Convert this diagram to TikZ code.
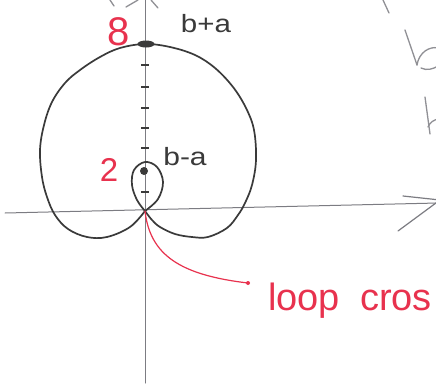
\documentclass[tikz,border=0pt]{standalone}
\usepackage{fontspec}
\setmainfont{Liberation Sans}
\usetikzlibrary{shapes.geometric}
\definecolor{pen}{HTML}{3A3A3A}
\definecolor{axisgray}{HTML}{7C7C82}
\definecolor{redpen}{HTML}{E8324E}
\begin{document}
\begin{tikzpicture}[x=1pt,y=-1pt,
  axisline/.style={draw=axisgray,line width=1pt,line cap=round},
  curveline/.style={draw=pen,line width=1.7pt,line cap=round,line join=round},
  tickmark/.style={draw=pen,line width=1.8pt},
  redline/.style={draw=redpen,line width=1.2pt,line cap=round},
  redlabel/.style={text=redpen,inner sep=0pt},
  blacklabel/.style={text=pen,inner sep=0pt},
  fragment/.style={draw=axisgray!85,line width=1.3pt,line cap=round}]
\useasboundingbox (0,0) rectangle (436,383);
\clip (0,0) rectangle (436,383);
\fill[white] (0,0) rectangle (436,383);
% axes
\coordinate (O) at (145,211);
\coordinate (ytop) at (145,-2);
\coordinate (ybot) at (145,383);
\coordinate (xl) at (5,213);
\coordinate (xr) at (438,203);
\draw[axisline] (ybot) -- (ytop);
\draw[axisline] (xl) -- (xr);
\coordinate (xa1) at (403,196);
\coordinate (xa2) at (398,231);
\coordinate (xtip) at (440,200);
\draw[axisline,line width=1.2pt] (xa1) -- (xtip) -- (xa2);
% top fragments
\draw[fragment] (126,7) -- (138,0);
\draw[fragment] (151,0) -- (158,8);
\draw[fragment] (110,0) -- (114,6);
% right fragments
\draw[fragment] (383,0) -- (389,13);
\draw[fragment] (405,30) -- (417,65);
\draw[fragment] (417,65) .. controls (419,52) and (430,46) .. (438,48);
\draw[fragment] (421,68) .. controls (427,71) and (433,69) .. (438,66);
\draw[fragment] (425,97) -- (430,134);
\draw[fragment] (428,127) .. controls (430,122) and (434,120) .. (438,119);
% ticks
\foreach \ty in {65,87,108,128,148,192} \draw[tickmark] (141,\ty) -- (149,\ty);
% limacon outer
\draw[curveline] plot[smooth,tension=0.6] coordinates {(145,211) (152,220) (160,227) (175,234) (192,237) (208,237) (227,228) (238,215) (245,203) (252,185) (256,160) (254,130) (246,108) (233,87) (215,68) (195,55) (170,47) (145,44) (120,48) (100,57) (80,70) (65,83) (52,102) (44,125) (40,150) (42,177) (47,197) (55,215) (68,229) (87,237) (107,237) (130,227) (145,211)};
% inner loop
\draw[curveline] plot[smooth,tension=0.6] coordinates {(145,211) (137,200) (132,185) (134,170) (145,162) (157,167) (163,182) (158,199) (145,211)};
% dots
\node[ellipse,fill=pen,inner sep=0pt,minimum width=17pt,minimum height=7pt] (topdot) at (146,44) {};
\node[circle,fill=pen,inner sep=0pt,minimum size=8pt] (lowdot) at (144,171) {};
% labels
\node[redlabel,font=\fontsize{40}{40}\selectfont] (eight) at (119,32) {8};
\node[redlabel,font=\fontsize{33}{33}\selectfont] (two) at (109,170) {2};
\node[blacklabel,font=\fontsize{25}{25}\selectfont,xscale=1.18] (bpa) at (206,24) {b+a};
\node[blacklabel,font=\fontsize{25}{25}\selectfont,xscale=1.2] (bma) at (185,157) {b-a};
% red annotation
\node[circle,fill=redpen,inner sep=0pt,minimum size=4pt] (rdot) at (248,283) {};
\draw[redline] (O) .. controls (150,255) and (180,275) .. (rdot.center);
\node[redlabel,anchor=base west,font=\fontsize{38}{38}\selectfont] (loopcross) at (268,310) {loop\hspace{20pt}cros};
\end{tikzpicture}
\end{document}
